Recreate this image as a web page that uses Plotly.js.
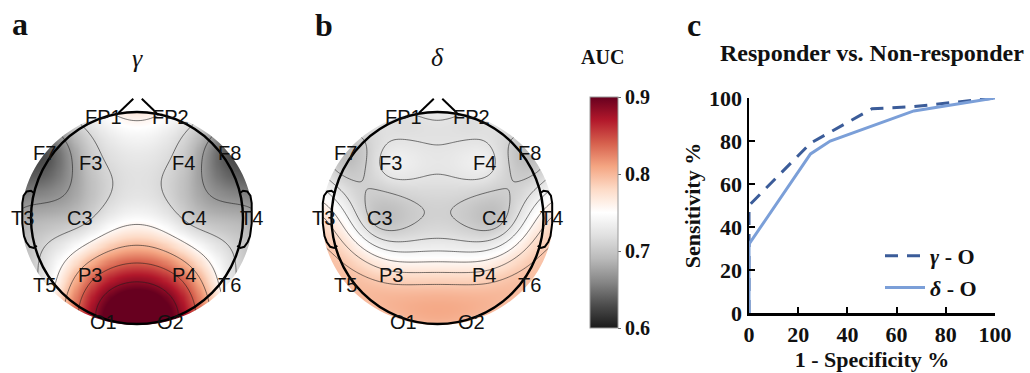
<!DOCTYPE html>
<html><head><meta charset="utf-8">
<script src="https://cdn.plot.ly/plotly-3.0.1.min.js"></script>
<style>html,body{margin:0;padding:0;background:#fff}#chart{width:1030px;height:373px}</style>
</head><body><div id="chart"></div>
<script>
// ---------------- data ----------------
const electrodes = ['FP1','FP2','F7','F3','F4','F8','T3','C3','C4','T4','T5','P3','P4','T6','O1','O2'];
// montage (normalised head coordinates, head radius = 1)
const montageX = [-0.32, 0.32, -0.87, -0.44, 0.44, 0.87, -1.08, -0.54, 0.54, 1.08, -0.87, -0.44, 0.44, 0.87, -0.32, 0.32];
const montageY = [0.95, 0.95, 0.61, 0.52, 0.52, 0.61, 0.0, 0.0, 0.0, 0.0, -0.63, -0.54, -0.54, -0.63, -0.98, -0.98];
// AUC per electrode
const gammaAUC = [0.745, 0.745, 0.63, 0.70, 0.70, 0.63, 0.68, 0.70, 0.70, 0.68, 0.73, 0.83, 0.83, 0.73, 0.90, 0.90];
const deltaAUC = [0.72, 0.72, 0.69, 0.735, 0.735, 0.69, 0.775, 0.695, 0.695, 0.775, 0.795, 0.78, 0.78, 0.795, 0.795, 0.795];
const colorbarTicks = [0.6, 0.7, 0.8, 0.9];
// ROC curves
const rocGammaFPR = [0, 0, 25, 50, 67, 100];
const rocGammaTPR = [0, 50, 79, 95, 96, 100];
const rocDeltaFPR = [0, 0, 25, 33, 67, 100];
const rocDeltaTPR = [0, 32, 74, 80, 94, 100];
const rocTicks = [0, 20, 40, 60, 80, 100];

// ---------------- helpers ----------------
const W = 1030, H = 373;
const SERIF = 'Liberation Serif, Times New Roman, serif';
const SANS = 'Liberation Sans, Arial, sans-serif';

// biharmonic spline (griddata 'v4') through the electrode values
function biharmonic(xs, ys, vs) {
  const n = xs.length;
  const g = r => r === 0 ? 0 : r * r * (Math.log(r) - 1);
  const A = [];
  for (let i = 0; i < n; i++) {
    A.push([]);
    for (let j = 0; j < n; j++) A[i].push(g(Math.hypot(xs[i] - xs[j], ys[i] - ys[j])));
    A[i].push(vs[i]);
  }
  for (let c = 0; c < n; c++) {
    let p = c;
    for (let r = c + 1; r < n; r++) if (Math.abs(A[r][c]) > Math.abs(A[p][c])) p = r;
    [A[c], A[p]] = [A[p], A[c]];
    for (let r = 0; r < n; r++) {
      if (r === c) continue;
      const f = A[r][c] / A[c][c];
      for (let k = c; k <= n; k++) A[r][k] -= f * A[c][k];
    }
  }
  const w = A.map((row, i) => row[n] / row[i]);
  return (x, y) => {
    let s = 0;
    for (let j = 0; j < n; j++) s += w[j] * g(Math.hypot(x - xs[j], y - ys[j]));
    return s;
  };
}

const EA = 1.09, EB = 1.01; // coloured disk (semi-axes, head radius = 1)
const GRID = 1.15, STEP = 0.02;
const gx = [];
for (let v = -GRID; v <= GRID + 1e-9; v += STEP) gx.push(+v.toFixed(3));
function surface(vals) {
  const f = biharmonic(montageX, montageY, vals);
  const z = gx.map(y => gx.map(x => f(x, y)));
  let mn = Infinity, mx = -Infinity;
  gx.forEach((y, i) => gx.forEach((x, j) => {
    if ((x / EA) ** 2 + (y / EB) ** 2 <= 1) { mn = Math.min(mn, z[i][j]); mx = Math.max(mx, z[i][j]); }
  }));
  return {z, mn, mx};
}

function domainFor(cx, cy, R, xr, yr) {
  return {
    x: [(cx + xr[0] * R) / W, (cx + xr[1] * R) / W],
    y: [1 - (cy - yr[0] * R) / H, 1 - (cy - yr[1] * R) / H]
  };
}

const RdGy = [
  [0.0, '#1a1a1a'], [0.1, '#4d4d4d'], [0.2, '#878787'], [0.3, '#bababa'], [0.4, '#e0e0e0'],
  [0.5, '#ffffff'], [0.6, '#fddbc7'], [0.7, '#f4a582'], [0.8, '#d6604d'], [0.9, '#b2182b'], [1.0, '#67001f']
];

const heads = [
  {cx: 137, cy: 218, R: 106, vals: gammaAUC, ax: ''},
  {cx: 437.5, cy: 218, R: 106, vals: deltaAUC, ax: '2'}
];
const XR = [-1.29, 1.29], YR = [-1.22, 1.25];

const traces = [];
const layout = {
  width: W, height: H, margin: {l: 0, r: 0, t: 0, b: 0},
  paper_bgcolor: '#fff', plot_bgcolor: 'rgba(0,0,0,0)',
  showlegend: true,
  shapes: [], annotations: []
};

const ear = [[-0.972, 0.236], [-1.0, 0.257], [-1.04, 0.25], [-1.07, 0.21], [-1.082, 0.14], [-1.082, -0.05],
             [-1.074, -0.11], [-1.066, -0.17], [-1.045, -0.226], [-1.012, -0.272], [-0.975, -0.283], [-0.945, -0.262]];

heads.forEach((h, i) => {
  const s = surface(h.vals);
  const step = (s.mx - s.mn) / 7; // six automatic contour levels
  const xa = 'x' + h.ax, ya = 'y' + h.ax;
  traces.push({
    type: 'heatmap', x: gx, y: gx, z: s.z, xaxis: xa, yaxis: ya, showlegend: false,
    zmin: 0.6, zmax: 0.9, colorscale: RdGy, zsmooth: 'best', hoverinfo: 'skip',
    showscale: i === 1,
    colorbar: {
      x: 590 / W, xanchor: 'left', y: 1 - 97 / H, yanchor: 'top', len: 231 / H, lenmode: 'fraction',
      thickness: 28, thicknessmode: 'pixels', xpad: 0, ypad: 0,
      outlinewidth: 1, outlinecolor: '#999', ticks: 'outside', ticklen: 3, tickcolor: '#666',
      tickvals: colorbarTicks, tickformat: '.1f',
      tickfont: {family: SERIF, size: 20, color: '#111', weight: 'bold'}
    }
  });
  traces.push({
    type: 'contour', x: gx, y: gx, z: s.z, xaxis: xa, yaxis: ya, showscale: false, showlegend: false,
    hoverinfo: 'skip',
    contours: {coloring: 'none', showlines: true, start: s.mn + step, end: s.mn + 6 * step + 1e-6, size: step},
    line: {color: 'rgba(30,30,30,0.85)', width: 0.7, smoothing: 1}
  });
  const d = domainFor(h.cx, h.cy, h.R, XR, YR);
  layout['xaxis' + h.ax] = {domain: d.x, range: XR, visible: false, fixedrange: true};
  layout['yaxis' + h.ax] = {domain: d.y, range: YR, visible: false, fixedrange: true};

  // mask outside coloured disk
  const M = 1.2;
  let p = `M ${-M} ${-M} L ${-M} ${M} L ${M} ${M} L ${M} ${-M} Z `;
  const N = 120;
  for (let k = 0; k <= N; k++) {
    const t = 2 * Math.PI * k / N;
    p += (k === 0 ? 'M ' : 'L ') + (EA * Math.cos(t)).toFixed(4) + ' ' + (EB * Math.sin(t)).toFixed(4) + ' ';
  }
  p += 'Z';
  layout.shapes.push({type: 'path', xref: xa, yref: ya, path: p, fillcolor: '#fff', fillrule: 'evenodd',
                      line: {width: 0}, layer: 'above'});
  // head outline
  layout.shapes.push({type: 'circle', xref: xa, yref: ya, x0: -1, x1: 1, y0: -1, y1: 1,
                      line: {color: '#000', width: 2.4}, layer: 'above'});
  // nose
  layout.shapes.push({type: 'line', xref: xa, yref: ya, x0: -0.175, y0: 0.99, x1: -0.035, y1: 1.125,
                      line: {color: '#000', width: 2}, layer: 'above'});
  layout.shapes.push({type: 'line', xref: xa, yref: ya, x0: 0.045, y0: 1.125, x1: 0.185, y1: 0.99,
                      line: {color: '#000', width: 2}, layer: 'above'});
  // ears
  [1, -1].forEach(sg => {
    const path = ear.map((q, k) => (k ? 'L ' : 'M ') + (sg * q[0]).toFixed(3) + ' ' + q[1].toFixed(3)).join(' ');
    layout.shapes.push({type: 'path', xref: xa, yref: ya, path: path, line: {color: '#000', width: 2}, layer: 'above'});
  });
  // electrode labels
  electrodes.forEach((e, k) => {
    layout.annotations.push({xref: xa, yref: ya, x: montageX[k], y: montageY[k], text: e, showarrow: false,
      xanchor: 'center', yanchor: 'middle', font: {family: SANS, size: 20, color: '#111'}});
  });
});

// ROC panel
layout.xaxis3 = {
  domain: [749 / W, 995 / W], range: [0, 100], anchor: 'y3', fixedrange: true,
  showline: true, linecolor: '#000', linewidth: 2.5, ticks: 'inside', ticklen: 6, tickwidth: 2, tickcolor: '#000',
  tickvals: rocTicks, showgrid: false, zeroline: false,
  tickfont: {family: SERIF, size: 22, color: '#111', weight: 'bold'},
  title: {text: '1 - Specificity %', standoff: 4, font: {family: SERIF, size: 22, color: '#111', weight: 'bold'}}
};
layout.yaxis3 = {
  domain: [1 - 313 / H, 1 - 98 / H], range: [0, 100], anchor: 'x3', fixedrange: true,
  showline: true, linecolor: '#000', linewidth: 2.5, ticks: 'inside', ticklen: 6, tickwidth: 2, tickcolor: '#000',
  tickvals: rocTicks, showgrid: false, zeroline: false,
  tickfont: {family: SERIF, size: 22, color: '#111', weight: 'bold'},
  title: {text: 'Sensitivity %', standoff: 3, font: {family: SERIF, size: 22, color: '#111', weight: 'bold'}}
};
traces.push({type: 'scatter', mode: 'lines', x: rocGammaFPR, y: rocGammaTPR, xaxis: 'x3', yaxis: 'y3',
  name: '<i>γ</i> - O', line: {color: '#3b5c99', width: 3, dash: '13px,9px'}, hoverinfo: 'skip'});
traces.push({type: 'scatter', mode: 'lines', x: rocDeltaFPR, y: rocDeltaTPR, xaxis: 'x3', yaxis: 'y3',
  name: '<i>δ</i> - O', line: {color: '#7b9fd8', width: 3}, hoverinfo: 'skip'});
layout.legend = {x: 880 / W, xanchor: 'left', y: 1 - 235 / H, yanchor: 'top', bgcolor: 'rgba(0,0,0,0)',
  font: {family: SERIF, size: 22, color: '#111', weight: 'bold'}, tracegroupgap: 0, itemwidth: 40};

function txt(x, y, text, size, extra) {
  layout.annotations.push(Object.assign({xref: 'paper', yref: 'paper', x: x / W, y: 1 - y / H, text: text,
    showarrow: false, xanchor: 'center', yanchor: 'middle',
    font: {family: SERIF, size: size, color: '#111', weight: 'bold'}}, extra || {}));
}
txt(20, 24, 'a', 32);
txt(324, 25, 'b', 32);
txt(694, 25, 'c', 32);
txt(137, 58, '<i>γ</i>', 26, {font: {family: SERIF, size: 26, color: '#111'}});
txt(437, 57, '<i>δ</i>', 26, {font: {family: SERIF, size: 26, color: '#111'}});
txt(602, 57, 'AUC', 20);
txt(872, 53, 'Responder vs. Non-responder', 24);

Plotly.newPlot('chart', traces, layout, {staticPlot: true, displayModeBar: false});
</script></body></html>
